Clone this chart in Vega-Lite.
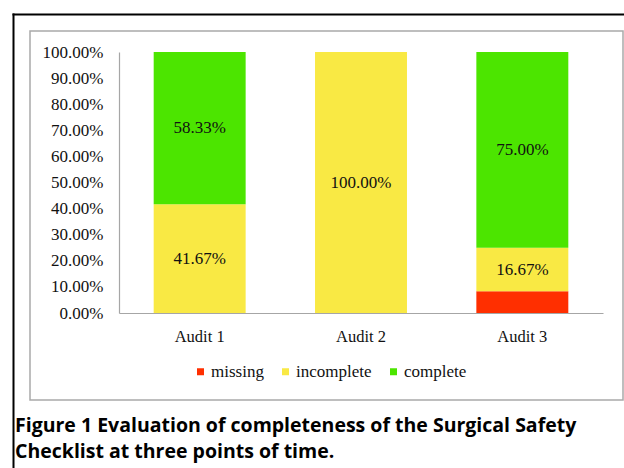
{
  "$schema": "https://vega.github.io/schema/vega-lite/v6.json",
  "width": 593,
  "height": 369,
  "autosize": {"type": "none"},
  "padding": {"left": 30, "top": 31, "right": 1, "bottom": 68},
  "background": "white",
  "config": {
    "view": {"stroke": "#a9a9a9", "strokeWidth": 1.5},
    "font": "Liberation Serif",
    "axis": {"labelOverlap": false},
    "axisY": {"labelOverlap": false}
  },
  "data": {
    "values": [
      {"audit": "Audit 1", "status": "incomplete", "rank": 2, "pct": 0.4167},
      {"audit": "Audit 1", "status": "complete", "rank": 3, "pct": 0.5833},
      {"audit": "Audit 2", "status": "incomplete", "rank": 2, "pct": 1.0},
      {"audit": "Audit 3", "status": "missing", "rank": 1, "pct": 0.0833},
      {"audit": "Audit 3", "status": "incomplete", "rank": 2, "pct": 0.1667},
      {"audit": "Audit 3", "status": "complete", "rank": 3, "pct": 0.75}
    ]
  },
  "title": {
    "text": ["Figure 1 Evaluation of completeness of the Surgical Safety", "Checklist at three points of time."],
    "orient": "bottom",
    "anchor": "start",
    "frame": "bounds",
    "font": "Open Sans",
    "fontSize": 19.5,
    "fontWeight": "bold",
    "color": "#000000",
    "lineHeight": 26,
    "offset": 0,
    "dx": 2,
    "dy": -68
  },
  "layer": [
    {
      "layer": [
        {
          "mark": {"type": "bar"},
          "encoding": {
            "x": {
              "field": "audit",
              "type": "nominal",
              "scale": {"range": [89, 573], "paddingInner": 0.43, "paddingOuter": 0.215},
              "axis": {
                "orient": "bottom",
                "offset": -87,
                "title": null,
                "labelAngle": 0,
                "ticks": false,
                "labelPadding": 15,
                "domainColor": "#a6a6a6",
                "domainWidth": 1.2,
                "labelFont": "Liberation Serif",
                "labelFontSize": 16.5,
                "labelColor": "#111111",
                "grid": false
              }
            },
            "y": {
              "field": "pct",
              "type": "quantitative",
              "stack": "zero",
              "scale": {"domain": [0, 1], "range": [282, 21], "nice": false},
              "axis": {
                "orient": "left",
                "offset": -89,
                "values": [0, 0.1, 0.2, 0.3, 0.4, 0.5, 0.6, 0.7, 0.8, 0.9, 1],
                "tickCount": 11,
                "format": ".2%",
                "title": null,
                "grid": false,
                "ticks": false,
                "labelOverlap": false,
                "labelPadding": 16,
                "domainColor": "#a6a6a6",
                "domainWidth": 1.2,
                "labelFont": "Liberation Serif",
                "labelFontSize": 17,
                "labelColor": "#111111"
              }
            },
            "color": {
              "field": "status",
              "type": "nominal",
              "scale": {
                "domain": ["missing", "incomplete", "complete"],
                "range": ["#ff2f00", "#f9e944", "#4ce500"]
              },
              "legend": {
                "orient": "none",
                "legendX": 162,
                "legendY": 332,
                "direction": "horizontal",
                "title": null,
                "symbolType": "square",
                "symbolSize": 49,
                "symbolStrokeWidth": 0,
                "labelFont": "Liberation Serif",
                "labelFontSize": 17,
                "labelColor": "#111111",
                "columnPadding": 13,
                "labelOffset": 2,
                "padding": 0
              }
            },
            "order": {"field": "rank", "type": "quantitative"}
          }
        },
        {
          "mark": {"type": "text", "fontSize": 17, "color": "#111111", "baseline": "middle", "font": "Liberation Serif"},
          "encoding": {
            "x": {"field": "audit", "type": "nominal"},
            "y": {"field": "pct", "type": "quantitative", "stack": "zero", "bandPosition": 0.5, "axis": {"labelOverlap": false}},
            "detail": {"field": "status"},
            "order": {"field": "rank", "type": "quantitative"},
            "text": {
              "field": "pct",
              "type": "quantitative",
              "format": ".2%",
              "condition": {"test": "datum.status === 'missing'", "value": ""}
            }
          }
        }
      ]
    },
    {
      "mark": {"type": "point", "opacity": 0},
      "encoding": {
        "x": {
          "field": "pct",
          "type": "quantitative",
          "scale": {"domain": [0, 1], "range": [-17, 600], "nice": false, "zero": false},
          "axis": {
            "orient": "top",
            "offset": 17,
            "title": null,
            "labels": false,
            "ticks": false,
            "grid": false,
            "domainColor": "#000000",
            "domainWidth": 2,
            "domainCap": "square"
          }
        },
        "y": {
          "field": "pct",
          "type": "quantitative",
          "scale": {"domain": [0, 1], "range": [437, -17], "nice": false, "zero": false},
          "axis": {
            "orient": "left",
            "offset": 17,
            "title": null,
            "labels": false,
            "ticks": false,
            "grid": false,
            "domainColor": "#000000",
            "domainWidth": 2,
            "domainCap": "square"
          }
        }
      }
    }
  ],
  "resolve": {"scale": {"x": "independent", "y": "independent"}}
}
